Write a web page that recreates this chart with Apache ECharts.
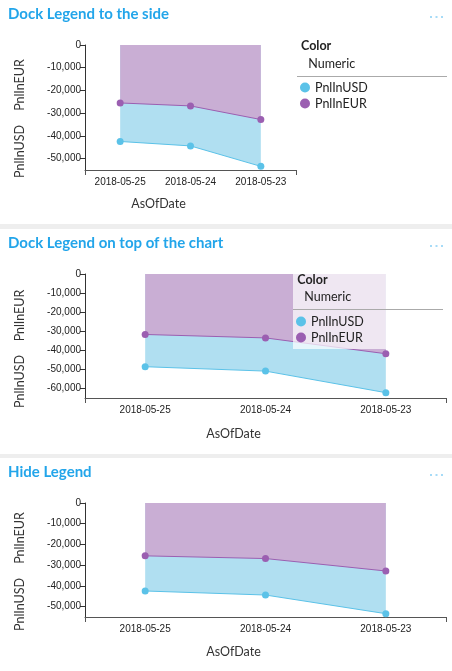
<!DOCTYPE html>
<html>
<head>
<meta charset="utf-8">
<script src="https://cdn.jsdelivr.net/npm/echarts@6/dist/echarts.min.js"></script>
<style>
  html, body { margin: 0; padding: 0; background: #ffffff; }
  #chart { width: 452px; height: 671px; }
</style>
</head>
<body>
<div id="chart"></div>
<script>
// ---------- data ----------
const titles = ['Dock Legend to the side', 'Dock Legend on top of the chart', 'Hide Legend'];
const dates = ['2018-05-25', '2018-05-24', '2018-05-23'];
const seriesNames = ['PnlInUSD', 'PnlInEUR'];
const usdSide = [-42450, -44400, -53400];
const eurSide = [-25500, -26800, -32800];
const usdTop = [-48600, -50900, -62200];
const eurTop = [-31700, -33500, -41800];
const usdHide = [-42450, -44400, -53400];
const eurHide = [-25500, -26800, -32800];
const yTicksSmall = [0, -10000, -20000, -30000, -40000, -50000];
const yTicksLarge = [0, -10000, -20000, -30000, -40000, -50000, -60000];
const yMins = [-55000, -65000, -55000];
const xAxisTitle = 'AsOfDate';
const legendHeader = 'Color';
const legendSub = 'Numeric';

// ---------- styles / layout ----------
const BLUE_LINE = '#5bc2e8';
const BLUE_AREA = '#b0dff1';
const PURPLE_LINE = '#9b5fb1';
const PURPLE_AREA = '#c9aed4';
const TITLE_COLOR = '#22a5ea';
const UI_FONT = 'Lato';
const TICK_FONT = 'Liberation Sans';

const grids = [
  { left: 85, top: 45, width: 211, height: 125 },
  { left: 85, top: 274, width: 361, height: 124 },
  { left: 85, top: 503, width: 361, height: 114 }
];
const titleTops = [7, 236, 465];
const dataSets = [[usdSide, eurSide], [usdTop, eurTop], [usdHide, eurHide]];
const tickSets = [yTicksSmall, yTicksLarge, yTicksSmall];

const fmt = v => v.toLocaleString('en-US');

const option = {
  animation: false,
  backgroundColor: '#ffffff',
  title: titles.map((t, i) => ({
    text: t,
    left: 8,
    top: titleTops[i],
    padding: 0,
    textStyle: { fontFamily: UI_FONT, fontSize: 15, fontWeight: 'bold', color: TITLE_COLOR }
  })),
  grid: grids.map(g => Object.assign({ containLabel: false }, g)),
  xAxis: [],
  yAxis: [],
  series: [],
  legend: [
    {
      data: seriesNames, orient: 'vertical', left: 300, top: 81, padding: 0,
      icon: 'circle', itemWidth: 10, itemHeight: 10, itemGap: 3,
      textStyle: { fontFamily: UI_FONT, fontSize: 12.5, color: '#222' },
      selectedMode: false, z: 6
    },
    {
      data: seriesNames, orient: 'vertical', left: 296, top: 315, padding: 0,
      icon: 'circle', itemWidth: 10, itemHeight: 10, itemGap: 3,
      textStyle: { fontFamily: UI_FONT, fontSize: 12.5, color: '#222' },
      selectedMode: false, z: 6
    }
  ],
  graphic: []
};

grids.forEach((g, i) => {
  // main category axis
  option.xAxis.push({
    type: 'category', gridIndex: i, data: dates, boundaryGap: true, position: 'bottom',
    axisLine: { onZero: false, lineStyle: { color: '#555', width: 1 } },
    axisTick: { alignWithLabel: true, length: 5, lineStyle: { color: '#555' } },
    axisLabel: { fontFamily: TICK_FONT, fontSize: 10, color: '#222', margin: 7 }
  });
  // end ticks
  option.xAxis.push({
    type: 'value', gridIndex: i, min: 0, max: 1, interval: 1, position: 'bottom',
    axisLine: { show: false, onZero: false },
    axisTick: { show: true, length: 5, lineStyle: { color: '#555' } },
    axisLabel: { show: false }, splitLine: { show: false }
  });
  option.yAxis.push({
    type: 'value', gridIndex: i, min: yMins[i], max: 0, position: 'left',
    axisLine: { show: true, onZero: false, lineStyle: { color: '#333' } },
    axisTick: { show: true, length: 5, customValues: tickSets[i], lineStyle: { color: '#333' } },
    axisLabel: { customValues: tickSets[i], formatter: v => fmt(v), fontFamily: TICK_FONT, fontSize: 10, color: '#222', margin: 4 },
    splitLine: { show: false }
  });
  const [usd, eur] = dataSets[i];
  option.series.push({
    name: seriesNames[0], type: 'line', xAxisIndex: 2 * i, yAxisIndex: i, data: usd,
    symbol: 'circle', symbolSize: 7, showSymbol: true,
    itemStyle: { color: BLUE_LINE },
    lineStyle: { color: BLUE_LINE, width: 1 },
    areaStyle: { color: BLUE_AREA, opacity: 1, origin: 'end' }
  });
  option.series.push({
    name: seriesNames[1], type: 'line', xAxisIndex: 2 * i, yAxisIndex: i, data: eur,
    symbol: 'circle', symbolSize: 7, showSymbol: true,
    itemStyle: { color: PURPLE_LINE },
    lineStyle: { color: PURPLE_LINE, width: 1 },
    areaStyle: { color: PURPLE_AREA, opacity: 1, origin: 'end' }
  });
});

// separators
const gr = option.graphic;
[[224, 5], [454, 4]].forEach(([y, h]) => gr.push({ type: 'rect', shape: { x: 0, y: y, width: 452, height: h }, style: { fill: '#eeeeee' }, z: 10 }));
// "..." menus
[17, 246, 475].forEach(y => [430, 435.5, 441].forEach(x => gr.push({ type: 'rect', shape: { x: x, y: y - 1, width: 2, height: 2 }, style: { fill: '#a6dbf7' }, z: 10 })));

// axis titles
const yNamePos = [[85, 151.5], [315.5, 381.5], [538, 604.5]];
yNamePos.forEach(([eurY, usdY]) => {
  [[seriesNames[1], eurY], [seriesNames[0], usdY]].forEach(([txt, y]) => gr.push({
    type: 'text', x: 19.5, y: y, rotation: Math.PI / 2, z: 10,
    style: { text: txt, fontFamily: UI_FONT, fontSize: 12.5, fill: '#333', align: 'center', verticalAlign: 'middle' }
  }));
});
const xNamePos = [[158.5, 204], [233.5, 434], [233.5, 651.5]];
xNamePos.forEach(([x, y]) => gr.push({
  type: 'text', x: x, y: y, z: 10,
  style: { text: xAxisTitle, fontFamily: UI_FONT, fontSize: 12.5, fill: '#333', align: 'center', verticalAlign: 'middle' }
}));

// legend headers
gr.push({ type: 'rect', shape: { x: 293, y: 274, width: 150, height: 75 }, style: { fill: 'rgba(255,255,255,0.7)' }, z: 5 });
const legendHeads = [
  { cx: 301, cy: 46, nx: 308.3, ny: 64.3, ly: 76.5, lx1: 297, lx2: 447 },
  { cx: 297.3, cy: 280, nx: 304.3, ny: 297.3, ly: 309.5, lx1: 293, lx2: 443 }
];
legendHeads.forEach(h => {
  gr.push({ type: 'text', x: h.cx, y: h.cy, z: 10, style: { text: legendHeader, fontFamily: UI_FONT, fontSize: 12.5, fontWeight: 'bold', fill: '#222', verticalAlign: 'middle' } });
  gr.push({ type: 'text', x: h.nx, y: h.ny, z: 10, style: { text: legendSub, fontFamily: UI_FONT, fontSize: 12.5, fill: '#222', verticalAlign: 'middle' } });
  gr.push({ type: 'line', shape: { x1: h.lx1, y1: h.ly, x2: h.lx2, y2: h.ly }, style: { stroke: '#aaaaaa', lineWidth: 1 }, z: 10 });
});

const chart = echarts.init(document.getElementById('chart'), null, { renderer: 'canvas' });
chart.setOption(option);
</script>
</body>
</html>
